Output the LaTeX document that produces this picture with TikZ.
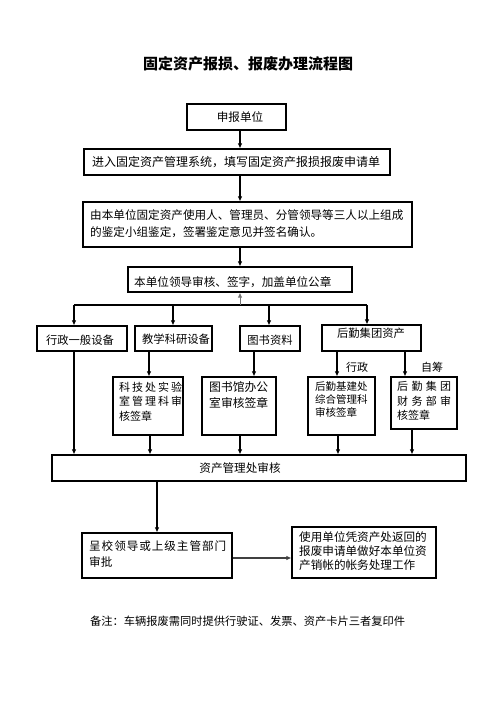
\documentclass[tikz,border=0pt]{standalone}
\usepackage{fontspec}
\setmainfont{Noto Sans CJK SC}
\usetikzlibrary{arrows.meta}
\newcommand\fs[2]{\fontsize{#1}{#2}\selectfont}
\tikzset{
  box/.style={draw, line width=1.1pt, inner sep=0pt},
  txt/.style={inner sep=0pt, font=\fs{11.6}{17}, align=left},
  link/.style={line width=1.2pt},
  arr/.style={line width=1.2pt, -{Latex[length=5pt,width=4.5pt]}},
}
% rectangle from (x1,y1) to (x2,y2), y measured downwards
\newcommand\flowbox[5]{\node[box, minimum width={(#4-#2)*1pt}, minimum height={(#5-#3)*1pt}] (#1) at ({(#2+#4)/2},{(#3+#5)/2}) {};}
\begin{document}
\begin{tikzpicture}[x=1pt,y=-1pt]
\useasboundingbox (0,0) rectangle (496,702);

% title
\node[inner sep=0pt, font=\fs{15}{18}\bfseries] (title) at (248,64) {固定资产报损、报废办理流程图};

% boxes
\flowbox{b1}{187}{104}{286}{130}
\flowbox{b2}{84}{149}{390}{175}
\flowbox{b3}{83}{202}{412}{247}
\flowbox{b4}{128}{267}{352}{292}
\flowbox{r1}{37}{326}{127}{351}
\flowbox{r2}{135}{326}{212}{351}
\flowbox{r3}{240}{326}{300}{351}
\flowbox{r4}{322}{325}{421}{351}
\flowbox{s1}{113}{377}{183}{435}
\flowbox{s2}{202}{377}{276}{435}
\flowbox{s3}{308}{377}{375}{435}
\flowbox{s4}{391}{377}{457}{429}
\flowbox{z}{52}{455}{466}{481}
\flowbox{c}{82}{533}{232}{578}
\flowbox{d}{292}{527}{436}{578}

% texts
\node[txt] (b1t) at (240,117) {申报单位};
\node[txt, anchor=west, font=\fs{12}{14}] (b2t) at (92,162) {进入固定资产管理系统，填写固定资产报损报废申请单};
\node[txt, anchor=north west] (b3t) at (90,209.2) {由本单位固定资产使用人、管理员、分管领导等三人以上组成\\的鉴定小组鉴定，签署鉴定意见并签名确认。};
\node[txt, anchor=west] (b4t) at (134,282) {本单位领导审核、签字，加盖单位公章};
\node[txt, font=\fs{11.3}{14}] (r1t) at (80,340) {行政一般设备};
\node[txt, font=\fs{11.3}{14}] (r2t) at (176,339) {教学科研设备};
\node[txt, font=\fs{11.3}{14}] (r3t) at (270,340) {图书资料};
\node[txt, font=\fs{11.3}{14}] (r4t) at (371,333) {后勤集团资产};
\node[txt, font=\fs{11}{14}] (l1) at (357,367) {行政};
\node[txt, font=\fs{11}{14}] (l2) at (432,367) {自筹};
\node[txt, anchor=north west, font=\fs{11}{14.5}] (s1t) at (119,381.5)
  {\hbox to 63pt{科\hfil 技\hfil 处\hfil 实\hfil 验}\\\hbox to 63pt{室\hfil 管\hfil 理\hfil 科\hfil 审}\\核签章};
\node[txt, anchor=north west, font=\fs{11.8}{16}] (s2t) at (209,381)
  {图书馆办公\\室审核签章};
\node[txt, anchor=north west, font=\fs{10.5}{13}] (s3t) at (315,381.8)
  {后勤基建处\\综合管理科\\审核签章};
\node[txt, anchor=north west, font=\fs{11}{14.5}] (s4t) at (397,381.5)
  {\hbox to 54pt{后\hfil 勤\hfil 集\hfil 团}\\\hbox to 54pt{财\hfil 务\hfil 部\hfil 审}\\核签章};
\node[txt] (zt) at (240,468) {资产管理处审核};
\node[txt, anchor=north west, font=\fs{11.6}{16}] (ct) at (89,540.2)
  {\hbox to 137pt{呈\hfil 校\hfil 领\hfil 导\hfil 或\hfil 上\hfil 级\hfil 主\hfil 管\hfil 部\hfil 门}\\审批};
\node[txt, anchor=north west, font=\fs{11.6}{14}] (dt) at (299,531.2)
  {使用单位凭资产处返回的\\报废申请单做好本单位资\\产销帐的帐务处理工作};
\node[txt, anchor=west, font=\fs{11.25}{14}] (note) at (90,621) {备注：车辆报废需同时提供行驶证、发票、资产卡片三者复印件};

% trunk and branch positions
\coordinate (tx) at (240,0);
\coordinate (k1) at (74,305);
\coordinate (k2) at (173,305);
\coordinate (k3) at (269,305);
\coordinate (k4) at (367,305);
\coordinate (v1) at (149,0);
\coordinate (v2) at (254,0);
\coordinate (v3) at (337,0);
\coordinate (v4) at (405,0);
\coordinate (w1) at (150,0);
\coordinate (w2) at (240,0);
\coordinate (w3) at (338,0);
\coordinate (w4) at (412,0);
\coordinate (w5) at (157,0);

% connectors
\draw[arr] (b1.south -| tx) -- (b2.north -| tx);
\draw[arr] (b2.south -| tx) -- (b3.north -| tx);
\draw[arr] (b3.south -| tx) -- (b4.north -| tx);
\draw[link] (k1) -- (k4);
\draw[arr, draw=black!55, line width=1pt] (k1 -| tx) -- (b4.south -| tx);
\draw[arr] (k1) -- (k1 |- r1.north);
\draw[arr] (k2) -- (k2 |- r2.north);
\draw[arr] (k3) -- (k3 |- r3.north);
\draw[arr] (k4) -- (k4 |- r4.north);
\draw[arr] (r1.south -| k1) -- (z.north -| k1);
\draw[arr] (r2.south -| v1) -- (s1.north -| v1);
\draw[arr] (r3.south -| v2) -- (s2.north -| v2);
\draw[arr] (r4.south -| v3) -- (s3.north -| v3);
\draw[arr] (r4.south -| v4) -- (s4.north -| v4);
\draw[arr] (s1.south -| w1) -- (z.north -| w1);
\draw[arr] (s2.south -| w2) -- (z.north -| w2);
\draw[arr] (s3.south -| w3) -- (z.north -| w3);
\draw[arr] (s4.south -| w4) -- (z.north -| w4);
\draw[arr] (z.south -| w5) -- (c.north -| w5);
\draw[arr, draw=black!75] ([yshift=-2.5pt]c.east) -- ([yshift=-2.5pt]c.east -| d.west);
\end{tikzpicture}
\end{document}
